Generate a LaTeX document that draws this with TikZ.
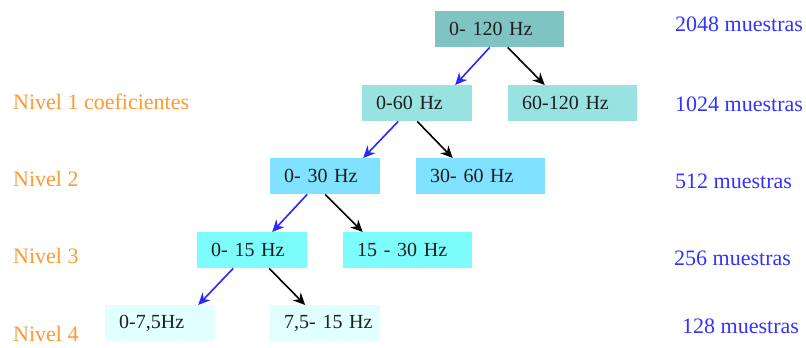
\documentclass[tikz,border=0pt]{standalone}
\usepackage{fontspec}
\setmainfont{Liberation Serif}
\usetikzlibrary{arrows.meta}
\definecolor{cTop}{RGB}{127,195,195}
\definecolor{cL1}{RGB}{153,226,226}
\definecolor{cL2}{RGB}{128,226,255}
\definecolor{cL3}{RGB}{125,252,252}
\definecolor{cL4}{RGB}{226,255,255}
\definecolor{cTxt}{RGB}{30,30,30}
\definecolor{cBlue}{RGB}{51,51,255}
\definecolor{cOrange}{RGB}{255,153,51}
\definecolor{cArrB}{RGB}{40,40,255}
\tikzset{
  box/.style={anchor=north west, minimum height=36pt, inner xsep=14pt, inner ysep=0pt,
    align=left, text=cTxt, font=\fontsize{20}{22}\selectfont},
  narrow/.style={text width=82pt},
  wide/.style={text width=101pt},
  lvl/.style={anchor=west, inner sep=0pt, text=cOrange, font=\fontsize{22}{24}\selectfont},
  cnt/.style={anchor=west, inner sep=0pt, text=cBlue, font=\fontsize{22}{24}\selectfont},
  lowarrow/.style={cArrB, line width=1.6pt, -{Stealth[length=12pt,width=11pt]}},
  higharrow/.style={black, line width=1.6pt, -{Stealth[length=12pt,width=11pt]}}
}
\begin{document}
\begin{tikzpicture}[x=1pt,y=-1pt]
\useasboundingbox[fill=white] (0,0) rectangle (806,348);
% boxes
\node[box,wide,fill=cTop] (n0) at (435,11) {0-~120~Hz};
\node[box,narrow,fill=cL1] (n1) at (362,85) {0-60~Hz};
\node[box,wide,fill=cL1] (h1) at (508,85) {60-120~Hz};
\node[box,narrow,fill=cL2] (n2) at (270,158) {0-~30~Hz};
\node[box,wide,fill=cL2] (h2) at (416,158) {30-~60~Hz};
\node[box,narrow,fill=cL3] (n3) at (197,232) {0-~15~Hz};
\node[box,wide,fill=cL3] (h3) at (343,232) {15~-~30~Hz};
\node[box,narrow,fill=cL4] (n4) at (105,305) {0-7,5Hz};
\node[box,narrow,fill=cL4] (h4) at (270,305) {\mbox{7,5-~15~Hz}};
% arrows
\draw[lowarrow] ([xshift=-10pt]n0.south) -- ([xshift=38pt]n1.north);
\draw[higharrow] ([xshift=8pt]n0.south) -- ([xshift=-28pt]h1.north);
\draw[lowarrow] ([xshift=-19pt]n1.south) -- ([xshift=38pt]n2.north);
\draw[higharrow] ([xshift=0pt]n1.south) -- ([xshift=-28pt]h2.north);
\draw[lowarrow] ([xshift=-18pt]n2.south) -- ([xshift=20pt]n3.north);
\draw[higharrow] ([xshift=0pt]n2.south) -- ([xshift=-45pt]h3.north);
\draw[lowarrow] ([xshift=-19pt]n3.south) -- ([xshift=38pt]n4.north);
\draw[higharrow] ([xshift=17pt]n3.south) -- ([xshift=-20pt]h4.north);
% level labels
\node[lvl] (l1) at (13,102) {Nivel 1 coeficientes};
\node[lvl] (l2) at (13,179) {Nivel 2};
\node[lvl] (l3) at (13,256) {Nivel 3};
\node[lvl] (l4) at (13,334) {Nivel 4};
% sample counts
\node[cnt] (c0) at (675,24) {2048 muestras};
\node[cnt] (c1) at (675,104) {1024 muestras};
\node[cnt] (c2) at (675,181) {512 muestras};
\node[cnt] (c3) at (674,258) {256 muestras};
\node[cnt] (c4) at (682,326) {128 muestras};
\end{tikzpicture}
\end{document}
